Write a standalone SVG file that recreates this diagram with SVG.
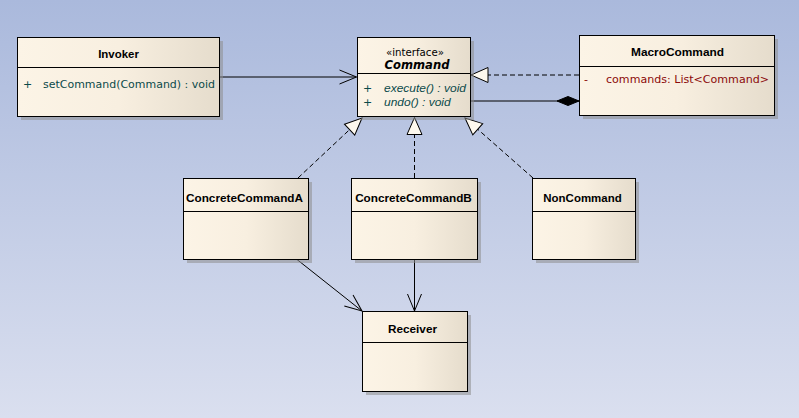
<svg xmlns="http://www.w3.org/2000/svg" width="799" height="418" viewBox="0 0 799 418">
<defs>
<linearGradient id="bg" x1="0" y1="0" x2="0" y2="1">
<stop offset="0" stop-color="#aab9dc"/>
<stop offset="1" stop-color="#dadfef"/>
</linearGradient>
<linearGradient id="box" x1="0" y1="0" x2="1" y2="0">
<stop offset="0" stop-color="#fcf4e6"/>
<stop offset="0.5" stop-color="#f8efe0"/>
<stop offset="1" stop-color="#e5dccc"/>
</linearGradient>
<marker id="open" markerUnits="userSpaceOnUse" markerWidth="20" markerHeight="16" refX="17" refY="7" orient="auto" overflow="visible">
<path d="M0,0 L17,7 L0,14" fill="none" stroke="#000" stroke-width="1"/>
</marker>
<marker id="tri" markerUnits="userSpaceOnUse" markerWidth="20" markerHeight="18" refX="17" refY="7.5" orient="auto" overflow="visible">
<path d="M0,0 L17,7.5 L0,15 Z" fill="#fdf8ee" stroke="#000" stroke-width="1"/>
</marker>
<marker id="dia" markerUnits="userSpaceOnUse" markerWidth="24" markerHeight="12" refX="22" refY="4.5" orient="auto" overflow="visible">
<path d="M0,4.5 L11,0 L22,4.5 L11,9 Z" fill="#000" stroke="#000" stroke-width="1"/>
</marker>
</defs>
<style>
.shadow{fill:#8e8e8e;opacity:0.55}
.box{fill:url(#box);stroke:#000;stroke-width:1}
.sep{stroke:#000;stroke-width:1}
.title{font-family:"Liberation Sans",Arial,sans-serif;font-weight:bold;font-size:11.3px;fill:#000;text-anchor:middle}
.mem{font-family:"DejaVu Sans",Verdana,sans-serif;font-size:11px;fill:#0b4a4a}
.ital{font-family:"Liberation Sans",Arial,sans-serif;font-style:italic;font-size:11.8px;fill:#0b4a4a}
.attr{font-family:"DejaVu Sans",Verdana,sans-serif;font-size:11px;fill:#8b0a0a}
.stereo{font-family:"DejaVu Sans",Verdana,sans-serif;font-size:10.5px;fill:#000;text-anchor:middle}
.iface{font-family:"DejaVu Sans",Verdana,sans-serif;font-weight:bold;font-style:italic;font-size:11.5px;fill:#000;text-anchor:middle}
.line{fill:none;stroke:#000;stroke-width:1}
.dash{fill:none;stroke:#000;stroke-width:1;stroke-dasharray:5,3}
</style>
<rect x="0" y="0" width="799" height="418" fill="url(#bg)"/>

<g id="connectors">
<path class="line" d="M219.5,77 L356.5,77" marker-end="url(#open)"/>
<path class="dash" d="M579,75 L471,75" marker-end="url(#tri)"/>
<path class="line" d="M470.5,101 L579,101" marker-end="url(#dia)"/>
<path class="dash" d="M298,178 L362,118" marker-end="url(#tri)"/>
<path class="dash" d="M414.5,178 L414.5,117.5" marker-end="url(#tri)"/>
<path class="dash" d="M533,178 L465,118" marker-end="url(#tri)"/>
<path class="line" d="M297,259.5 L362,311" marker-end="url(#open)"/>
<path class="line" d="M414.5,259.5 L414.5,311" marker-end="url(#open)"/>
</g>

<g id="Invoker">
<rect class="shadow" x="21" y="41" width="202" height="79"/>
<rect class="box" x="17.5" y="37.5" width="202" height="79"/>
<line class="sep" x1="17.5" y1="67.5" x2="219.5" y2="67.5"/>
<text class="title" x="118.5" y="58" textLength="40.7" lengthAdjust="spacingAndGlyphs">Invoker</text>
<text class="mem" x="23" y="88">+</text>
<text class="mem" x="43" y="88" textLength="172" lengthAdjust="spacingAndGlyphs">setCommand(Command) : void</text>
</g>

<g id="Command">
<rect class="shadow" x="361" y="41" width="113" height="79"/>
<rect class="box" x="357.5" y="37.5" width="113" height="79"/>
<line class="sep" x1="357.5" y1="73.5" x2="470.5" y2="73.5"/>
<text class="stereo" x="415" y="56" textLength="58" lengthAdjust="spacingAndGlyphs">«interface»</text>
<text class="iface" x="417" y="69" textLength="65" lengthAdjust="spacingAndGlyphs">Command</text>
<text class="mem" x="363" y="92">+</text>
<text class="ital" x="384" y="92" textLength="82" lengthAdjust="spacingAndGlyphs">execute() : void</text>
<text class="mem" x="363" y="106">+</text>
<text class="ital" x="384" y="106" textLength="66.7" lengthAdjust="spacingAndGlyphs">undo() : void</text>
</g>

<g id="MacroCommand">
<rect class="shadow" x="583" y="39" width="195" height="80"/>
<rect class="box" x="579.5" y="35.5" width="195" height="80"/>
<line class="sep" x1="579.5" y1="66.5" x2="774.5" y2="66.5"/>
<text class="title" x="677.5" y="56" textLength="93" lengthAdjust="spacingAndGlyphs">MacroCommand</text>
<text class="attr" x="584" y="83">-</text>
<text class="attr" x="606" y="83" textLength="163" lengthAdjust="spacingAndGlyphs">commands:  List&lt;Command&gt;</text>
</g>

<g id="ConcreteCommandA">
<rect class="shadow" x="187" y="182" width="125" height="81"/>
<rect class="box" x="183.5" y="178.5" width="125" height="81"/>
<line class="sep" x1="183.5" y1="211.5" x2="308.5" y2="211.5"/>
<text class="title" x="244.5" y="201.5" textLength="117" lengthAdjust="spacingAndGlyphs">ConcreteCommandA</text>
</g>

<g id="ConcreteCommandB">
<rect class="shadow" x="355" y="182" width="126" height="81"/>
<rect class="box" x="351.5" y="178.5" width="126" height="81"/>
<line class="sep" x1="351.5" y1="211.5" x2="477.5" y2="211.5"/>
<text class="title" x="413.5" y="201.5" textLength="116.7" lengthAdjust="spacingAndGlyphs">ConcreteCommandB</text>
</g>

<g id="NonCommand">
<rect class="shadow" x="536" y="182" width="103" height="81"/>
<rect class="box" x="532.5" y="178.5" width="103" height="81"/>
<line class="sep" x1="532.5" y1="211.5" x2="635.5" y2="211.5"/>
<text class="title" x="582.5" y="201.5" textLength="78.3" lengthAdjust="spacingAndGlyphs">NonCommand</text>
</g>

<g id="Receiver">
<rect class="shadow" x="366" y="315" width="105" height="80"/>
<rect class="box" x="362.5" y="311.5" width="105" height="80"/>
<line class="sep" x1="362.5" y1="342.5" x2="467.5" y2="342.5"/>
<text class="title" x="412.5" y="333" textLength="49" lengthAdjust="spacingAndGlyphs">Receiver</text>
</g>
</svg>
